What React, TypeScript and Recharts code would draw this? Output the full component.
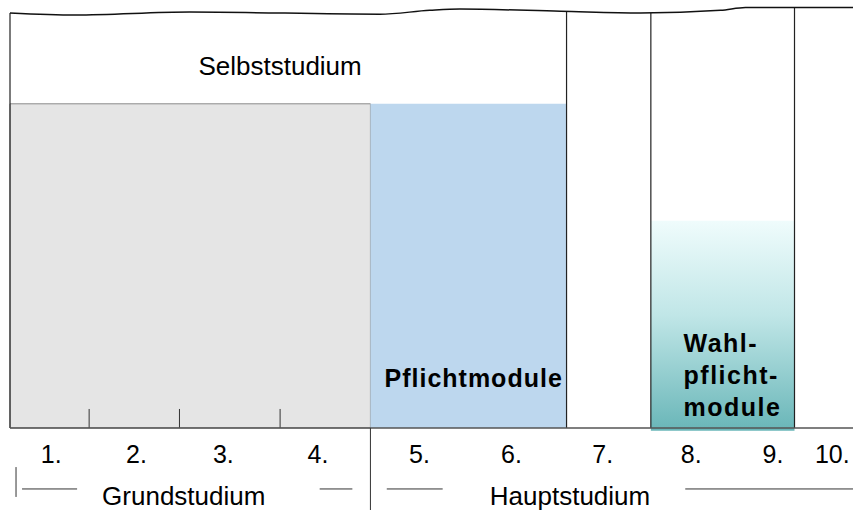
import {
  ComposedChart,
  Line,
  XAxis,
  YAxis,
  ReferenceArea,
  ReferenceLine,
  ReferenceDot,
} from "recharts";

// x axis: position along the course, in semester-ish units (0 = left edge)
// y axis: 0 = baseline, 100 = top of the page band
const X_MAX = 9.8;
const Y_MIN = -19.5;
const Y_MAX = 100;

// wavy top edge (torn paper look)
const WAVE_X = [0, 0.76, 2.09, 4.3, 4.88, 5.23, 6.4, 7.33, 8.26, 8.55, 9.8];
const WAVE_Y = [98.6, 98.1, 98.8, 98.3, 99.2, 99.5, 99.0, 98.6, 99.2, 99.9, 99.9];

// module blocks
const BLOCK_START = [0, 4.19, 7.45];
const BLOCK_END = [4.19, 6.47, 9.12];
const BLOCK_TOP = [77, 77, 49.2];

// semester dividers drawn inside the Grundstudium block
const GRUND_DIVIDERS = [0.92, 1.97, 3.14];

// full-height column lines and where they meet the wave
const COLUMN_X = [0, 6.47, 7.45, 9.12];
const COLUMN_TOP = [98.6, 99.0, 98.6, 99.9];

// semester labels
const SEMESTERS = ["1.", "2.", "3.", "4.", "5.", "6.", "7.", "8.", "9.", "10."];
const SEMESTER_POS = [0.48, 1.47, 2.48, 3.58, 4.76, 5.83, 6.89, 7.92, 8.87, 9.56];

// phases below the axis
const PHASES = ["Grundstudium", "Hauptstudium"];
const PHASE_CENTER = [2.02, 6.51];
const PHASE_DIVIDER = 4.19;
const BRACKET_SEGMENTS = [
  [0.14, 0.78],
  [3.6, 3.98],
  [4.38, 5.03],
  [7.85, 9.8],
];

const wave = WAVE_X.map((x, i) => ({ x, y: WAVE_Y[i] }));

const FONT = "'Liberation Sans', Arial, sans-serif";

function textShape(
  lines: string[],
  opts: { size: number; bold?: boolean; anchor?: "start" | "middle"; lineHeight?: number; spacing?: number }
) {
  return (p: any) => (
    <text
      x={p.cx}
      y={p.cy}
      textAnchor={opts.anchor ?? "middle"}
      fontFamily={FONT}
      fontSize={opts.size}
      fontWeight={opts.bold ? 700 : 400}
      letterSpacing={opts.spacing ?? 0}
      fill="#000"
    >
      {lines.map((l, i) => (
        <tspan key={i} x={p.cx} dy={i === 0 ? 0 : opts.lineHeight ?? 30}>
          {l}
        </tspan>
      ))}
    </text>
  );
}

export default function App() {
  return (
    <div style={{ position: "absolute", left: 0, top: 0, background: "#fff" }}>
      <ComposedChart
        width={853}
        height={510}
        data={wave}
        margin={{ top: 7, right: 0, bottom: 0, left: 10 }}
      >
        <defs>
          <linearGradient id="wahlGrad" x1="0" y1="0" x2="0" y2="1">
            <stop offset="0%" stopColor="#effcfc" />
            <stop offset="45%" stopColor="#c0e6e7" />
            <stop offset="100%" stopColor="#69b6b8" />
          </linearGradient>
        </defs>
        <XAxis dataKey="x" type="number" domain={[0, X_MAX]} hide />
        <YAxis type="number" domain={[Y_MIN, Y_MAX]} hide />

        <ReferenceArea
          x1={BLOCK_START[0]}
          x2={BLOCK_END[0]}
          y1={0}
          y2={BLOCK_TOP[0]}
          fill="#e5e5e5"
          fillOpacity={1}
          stroke="#8a8a8a"
          strokeWidth={1}
        />
        <ReferenceArea
          x1={BLOCK_START[1]}
          x2={BLOCK_END[1]}
          y1={0}
          y2={BLOCK_TOP[1]}
          fill="#bdd7ee"
          fillOpacity={1}
        />
        <ReferenceArea
          x1={BLOCK_START[2]}
          x2={BLOCK_END[2]}
          y1={-0.7}
          y2={BLOCK_TOP[2]}
          fill="url(#wahlGrad)"
          fillOpacity={1}
        />

        {GRUND_DIVIDERS.map((x) => (
          <ReferenceLine
            key={"g" + x}
            segment={[{ x, y: 0 }, { x, y: 4.5 }]}
            stroke="#333"
            strokeWidth={1}
          />
        ))}

        {COLUMN_X.map((x, i) => (
          <ReferenceLine
            key={"c" + x}
            segment={[{ x, y: 0 }, { x, y: COLUMN_TOP[i] }]}
            stroke="#222"
            strokeWidth={1.2}
          />
        ))}

        <ReferenceLine y={0} stroke="#555" strokeWidth={1.5} />

        <ReferenceLine
          segment={[{ x: PHASE_DIVIDER, y: 0 }, { x: PHASE_DIVIDER, y: Y_MIN }]}
          stroke="#333"
          strokeWidth={1}
        />
        <ReferenceLine
          segment={[{ x: 0.07, y: -9.3 }, { x: 0.07, y: -16.4 }]}
          stroke="#333"
          strokeWidth={1}
        />
        {BRACKET_SEGMENTS.map(([a, b]) => (
          <ReferenceLine
            key={"b" + a}
            segment={[{ x: a, y: -14.5 }, { x: b, y: -14.5 }]}
            stroke="#333"
            strokeWidth={1}
          />
        ))}

        <Line
          dataKey="y"
          type="monotone"
          stroke="#111"
          strokeWidth={1.5}
          dot={false}
          activeDot={false}
          isAnimationActive={false}
        />

        <ReferenceDot x={3.14} y={83.85} r={0} shape={textShape(["Selbststudium"], { size: 26 })} />
        <ReferenceDot
          x={5.39}
          y={9.72}
          r={0}
          shape={textShape(["Pflichtmodule"], { size: 25, bold: true, spacing: 1 })}
        />
        <ReferenceDot
          x={7.83}
          y={18.04}
          r={0}
          shape={textShape(["Wahl-", "pflicht-", "module"], {
            size: 25,
            bold: true,
            spacing: 1.5,
            anchor: "start",
            lineHeight: 32,
          })}
        />

        {SEMESTERS.map((s, i) => (
          <ReferenceDot
            key={s}
            x={SEMESTER_POS[i]}
            y={-8.33}
            r={0}
            shape={textShape([s], { size: 25 })}
          />
        ))}

        {PHASES.map((s, i) => (
          <ReferenceDot
            key={s}
            x={PHASE_CENTER[i]}
            y={-18.3}
            r={0}
            shape={textShape([s], { size: 26 })}
          />
        ))}
      </ComposedChart>
    </div>
  );
}
